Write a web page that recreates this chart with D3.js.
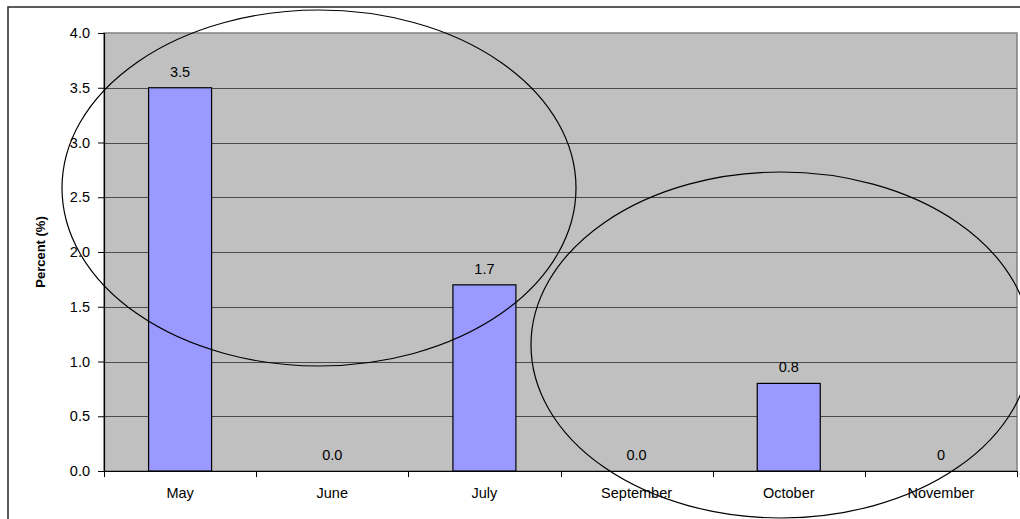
<!DOCTYPE html>
<html>
<head>
<meta charset="utf-8">
<script src="https://cdn.jsdelivr.net/npm/d3@7"></script>
<style>
  html, body { margin: 0; padding: 0; background: #fff; }
  svg { display: block; font-family: Arial, "Liberation Sans", sans-serif; }
</style>
</head>
<body>
<svg id="chart" width="1020" height="519"></svg>
<script>
// Monthly percentages
const months = ["May", "June", "July", "September", "October", "November"];
const percents = [3.5, 0.0, 1.7, 0.0, 0.8, 0.0];
const valueLabels = ["3.5", "0.0", "1.7", "0.0", "0.8", "0"];
const yTicks = [0, 0.5, 1.0, 1.5, 2.0, 2.5, 3.0, 3.5, 4.0];

const svg = d3.select("#chart");

// Figure caption running along the top edge (mostly above the page)
svg.append("text")
  .attr("x", -12).attr("y", -3)
  .attr("font-size", 17).attr("font-weight", "bold").attr("fill", "#111")
  .text("Figure 2: Positive results recorded at the monitoring sites, by month");

// Outer chart frame
svg.append("rect")
  .attr("x", 8).attr("y", 7).attr("width", 1040).attr("height", 540)
  .attr("fill", "#fff").attr("stroke", "#333").attr("stroke-width", 1.6);

const plot = { left: 104, right: 1017, top: 33, bottom: 471 };
const fontSize = 14.5;

const x = d3.scaleBand().domain(months)
  .range([plot.left, plot.right]).paddingInner(0).paddingOuter(0);
const y = d3.scaleLinear().domain([0, 4]).range([plot.bottom, plot.top]);

// Plot area background
svg.append("rect")
  .attr("x", plot.left).attr("y", plot.top)
  .attr("width", plot.right - plot.left).attr("height", plot.bottom - plot.top)
  .attr("fill", "#c0c0c0").attr("stroke", "#808080").attr("stroke-width", 1.5);

// Horizontal gridlines
svg.append("g").selectAll("line").data(yTicks.filter(d => d > 0 && d < 4)).join("line")
  .attr("x1", plot.left).attr("x2", plot.right)
  .attr("y1", d => Math.round(y(d)) + 0.5).attr("y2", d => Math.round(y(d)) + 0.5)
  .attr("stroke", "#4a4a4a").attr("stroke-width", 1);

// Bars
const barW = 63;
svg.append("g").selectAll("rect").data(months).join("rect")
  .filter((d, i) => percents[i] > 0)
  .attr("x", d => x(d) + x.bandwidth() / 2 - barW / 2)
  .attr("y", d => y(percents[months.indexOf(d)]))
  .attr("width", barW)
  .attr("height", d => plot.bottom - y(percents[months.indexOf(d)]))
  .attr("fill", "#9999ff").attr("stroke", "#000").attr("stroke-width", 1.2);

// Value labels
svg.append("g").selectAll("text").data(months).join("text")
  .attr("x", d => x(d) + x.bandwidth() / 2)
  .attr("y", (d, i) => y(percents[i]) - 11)
  .attr("text-anchor", "middle").attr("font-size", fontSize).attr("fill", "#000")
  .text((d, i) => valueLabels[i]);

// Y axis
const yAxis = svg.append("g")
  .attr("transform", `translate(${plot.left},0)`)
  .call(d3.axisLeft(y).tickValues(yTicks).tickFormat(d3.format(".1f")).tickSizeOuter(0).tickSize(6).tickPadding(8));
yAxis.select(".domain").attr("stroke", "#000").attr("stroke-width", 1.2);
yAxis.selectAll(".tick line").attr("stroke", "#000");
yAxis.selectAll(".tick text").attr("font-size", fontSize).attr("fill", "#000")
  .attr("font-family", "Arial, 'Liberation Sans', sans-serif");

// X axis
const xAxis = svg.append("g")
  .attr("transform", `translate(0,${plot.bottom})`)
  .call(d3.axisBottom(x).tickSize(0).tickPadding(17));
xAxis.select(".domain").attr("stroke", "#000").attr("stroke-width", 1.2);
xAxis.selectAll(".tick text").attr("font-size", fontSize).attr("fill", "#000")
  .attr("font-family", "Arial, 'Liberation Sans', sans-serif");

// Category separators below the axis
const bounds = months.map(m => x(m)).concat([plot.right]);
svg.append("g").selectAll("line").data(bounds).join("line")
  .attr("x1", d => Math.round(d) + 0.5).attr("x2", d => Math.round(d) + 0.5)
  .attr("y1", plot.bottom).attr("y2", plot.bottom + 6)
  .attr("stroke", "#000");

// Y axis title
svg.append("text")
  .attr("transform", `translate(45,${(plot.top + plot.bottom) / 2}) rotate(-90)`)
  .attr("text-anchor", "middle").attr("font-size", 13).attr("font-weight", "bold")
  .text("Percent (%)");

// Highlight ellipses
const rings = [
  { cx: 319, cy: 188, rx: 257, ry: 178 },
  { cx: 781, cy: 345, rx: 250, ry: 173 }
];
svg.append("g").selectAll("ellipse").data(rings).join("ellipse")
  .attr("cx", d => d.cx).attr("cy", d => d.cy)
  .attr("rx", d => d.rx).attr("ry", d => d.ry)
  .attr("fill", "none").attr("stroke", "#000").attr("stroke-width", 1.2);
</script>
</body>
</html>
